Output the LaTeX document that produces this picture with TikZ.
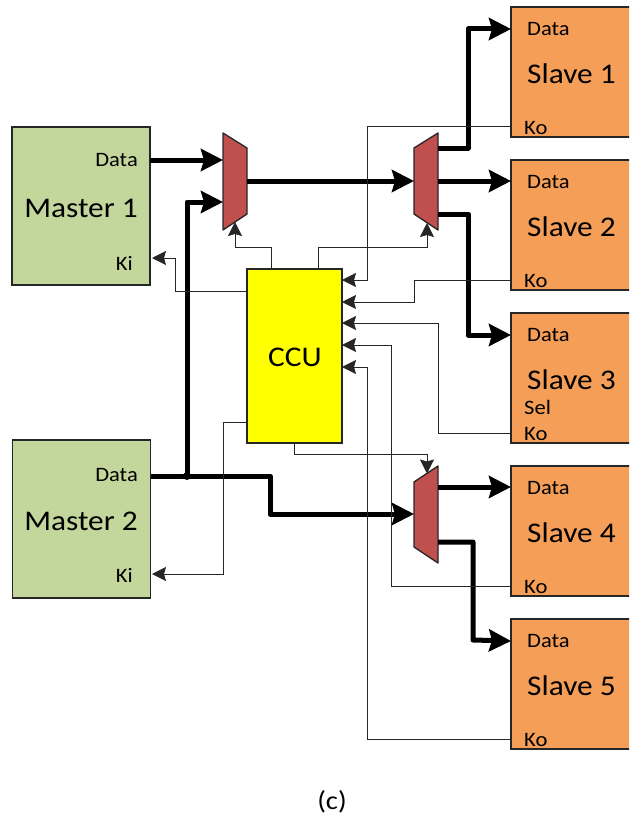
\documentclass[tikz,border=0pt]{standalone}
\usepackage{fontspec}
\setmainfont{Carlito}[FakeStretch=1.1]
\usetikzlibrary{arrows.meta,calc}
\definecolor{mastergreen}{RGB}{195,214,155}
\definecolor{slaveorange}{RGB}{245,158,88}
\definecolor{muxred}{RGB}{192,80,77}
\definecolor{ccuyellow}{RGB}{255,255,0}
\begin{document}
\begin{tikzpicture}[x=1pt,y=-1pt,
  box/.style={draw=black!85, line width=1.6pt, inner sep=0pt},
  master/.style={box, fill=mastergreen, minimum width=138pt, minimum height=158pt},
  slave/.style={box, fill=slaveorange, minimum width=150pt, minimum height=130pt},
  ccubox/.style={box, fill=ccuyellow, minimum width=95pt, minimum height=174pt},
  mux/.style={draw=black!85, line width=1.3pt, fill=muxred, line join=round},
  lbl/.style={inner sep=0pt, font=\fontsize{20.5}{22}\selectfont},
  big/.style={inner sep=0pt, font=\fontsize{28.5}{30}\selectfont},
  bus/.style={line width=5pt, line join=round, -{Stealth[length=22pt,width=22pt,inset=3pt]}},
  ctl/.style={line width=1pt, draw=black!85, -{Stealth[length=14pt,width=14pt,inset=2pt]}}
]
\useasboundingbox (0,0) rectangle (629,824);
\clip (0,0) rectangle (629,824);

% ---- masters ----
\node[master] (m1) at (81,206) {};
\node[lbl, anchor=east] (m1data) at (138,160) {Data};
\node[big] (m1name) at (81,208) {Master 1};
\node[lbl, anchor=east] (m1ki) at (133,263) {Ki};

\node[master] (m2) at (81.5,519) {};
\node[lbl, anchor=east] (m2data) at (138,475) {Data};
\node[big] (m2name) at (81,521) {Master 2};
\node[lbl, anchor=east] (m2ki) at (133,575) {Ki};

% ---- CCU ----
\node[ccubox] (ccu) at (294.5,356) {};
\node[big] (ccutxt) at (295,357) {CCU};

% ---- slaves ----
\foreach \i/\t in {1/7,2/160,3/313,4/466,5/619} {
  \node[slave] (s\i) at (586,\t+65) {};
  \node[lbl, anchor=west] (s\i-dl) at (527,\t+22) {Data};
  \node[big, anchor=west] (s\i-nm) at (527,\t+67) {Slave \i};
  \node[lbl, anchor=west] (s\i-kl) at (524,\t+121) {Ko};
  \coordinate (s\i-data) at (511,\t+22);
  \coordinate (s\i-ko) at (511,\t+120);
}
\node[lbl, anchor=west] (s3-sel) at (524,407) {Sel};

% ---- multiplexers ----
\coordinate (x1a) at (223,133); \coordinate (x1b) at (247,148);
\coordinate (x1c) at (247,214); \coordinate (x1d) at (223,230);
\coordinate (x2a) at (414,148); \coordinate (x2b) at (438,133);
\coordinate (x2c) at (438,230); \coordinate (x2d) at (414,214);
\coordinate (x3a) at (414,482); \coordinate (x3b) at (438,466);
\coordinate (x3c) at (438,563); \coordinate (x3d) at (414,547);
\draw[mux] (x1a) -- (x1b) -- (x1c) -- (x1d) -- cycle;
\draw[mux] (x2a) -- (x2b) -- (x2c) -- (x2d) -- cycle;
\draw[mux] (x3a) -- (x3b) -- (x3c) -- (x3d) -- cycle;

% ports
\coordinate (m1d) at (150,160); \coordinate (m2d) at (151,476);
\coordinate (m1k) at (152,258); \coordinate (m2k) at (152,574);
\coordinate (x1i1) at (223,160); \coordinate (x1i2) at (223,202);
\coordinate (x1o) at (247,181);  \coordinate (x1s) at (235,222);
\coordinate (x2i) at (414,181);
\coordinate (x2o1) at (438,148); \coordinate (x2o2) at (438,181); \coordinate (x2o3) at (438,214);
\coordinate (x2s) at (427,223);
\coordinate (x3i) at (414,514);
\coordinate (x3o1) at (438,487); \coordinate (x3o2) at (438,542);
\coordinate (x3s) at (427,473.5);
\coordinate (jn) at (187,476);
\coordinate (m2bend) at (270,476);
\coordinate (r1) at (468,29); \coordinate (r3) at (468,335); \coordinate (r5) at (473,640);

% ---- data buses ----
\draw[bus] (m1d) -- (x1i1);
\draw[bus] (jn) |- (x1i2);
\draw[bus] (x1o) -- (x2i);
\draw[bus] (x2o1) -| (r1) -- (s1-data);
\draw[bus] (x2o2) -- (s2-data |- x2o2);
\draw[bus] (x2o3) -| (r3) -- (s3-data);
\draw[bus] (m2d) -- (m2bend) |- (x3i);
\draw[bus] (x3o1) -- (s4-data |- x3o1);
\draw[bus] (x3o2) -| (r5) -- (s5-data);
\fill (jn) circle (4pt);

% ---- control lines ----
\coordinate (c1) at (271,269); \coordinate (c2) at (318,269);
\coordinate (c3) at (247,291); \coordinate (c4) at (247,422);
\coordinate (c5) at (294,443);
\draw[ctl] (c1) -- (271,247) -| (x1s);
\draw[ctl] (c2) -- (318,247) -| (x2s);
\draw[ctl] (c3) -- (175,291) |- (m1k);
\draw[ctl] (c4) -- (223,422) |- (m2k);
\draw[ctl] (c5) -- (294,454) -| (x3s);

\coordinate (k1) at (342,280); \coordinate (k2) at (342,302);
\coordinate (k3) at (342,323); \coordinate (k4) at (342,345);
\coordinate (k5) at (342,367);
\draw[ctl] (s1-ko) -| (367,280) -- (k1);
\draw[ctl] (s2-ko) -| (414,302) -- (k2);
\draw[ctl] (s3-ko) -| (438,323) -- (k3);
\draw[ctl] (s4-ko) -| (391,345) -- (k4);
\draw[ctl] (s5-ko) -| (367,367) -- (k5);

% ---- caption ----
\node[inner sep=0pt, font=\fontsize{26}{28}\selectfont] (cap) at (332,802) {(c)};
\end{tikzpicture}
\end{document}
